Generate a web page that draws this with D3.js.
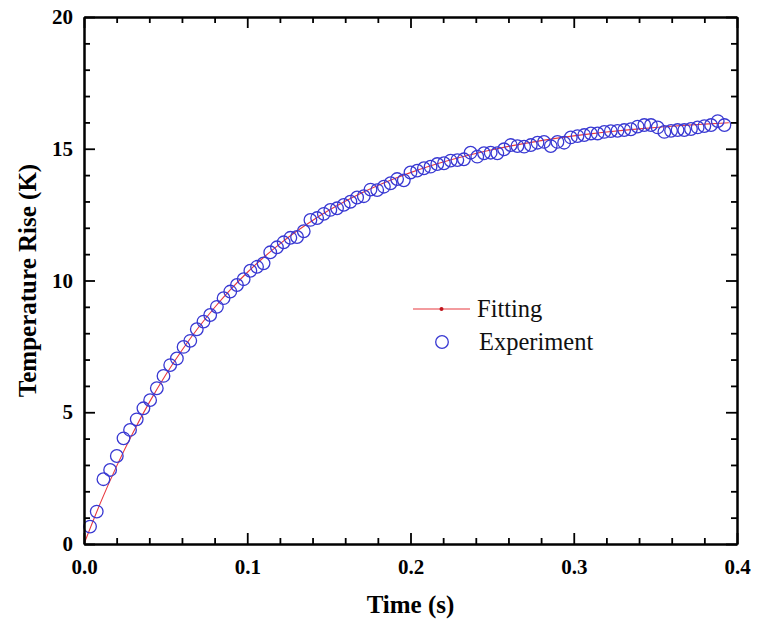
<!DOCTYPE html>
<html>
<head>
<meta charset="utf-8">
<script src="https://cdn.jsdelivr.net/npm/d3@7"></script>
<style>
  html, body { margin: 0; padding: 0; background: #fff; }
  svg { display: block; }
  .frame path.domain { stroke: #000; stroke-width: 2; }
  .frame line { stroke: #000; stroke-width: 1.8; }
  .frame text { font-family: "Liberation Serif", "Times New Roman", serif; font-weight: bold; font-size: 21px; fill: #000; }
</style>
</head>
<body>
<svg id="chart" width="759" height="634"></svg>
<script>
// Measured temperature rise (experiment) over time
const expTime = [
  0.0037, 0.0078, 0.0119, 0.0160, 0.0201, 0.0242, 0.0282, 0.0323, 0.0364, 0.0405,
  0.0446, 0.0487, 0.0528, 0.0569, 0.0610, 0.0651, 0.0691, 0.0732, 0.0773, 0.0814,
  0.0855, 0.0896, 0.0937, 0.0978, 0.1019, 0.1060, 0.1100, 0.1141, 0.1182, 0.1223,
  0.1264, 0.1305, 0.1346, 0.1387, 0.1428, 0.1469, 0.1509, 0.1550, 0.1591, 0.1632,
  0.1673, 0.1714, 0.1755, 0.1796, 0.1837, 0.1878, 0.1918, 0.1959, 0.2000, 0.2041,
  0.2082, 0.2123, 0.2164, 0.2205, 0.2246, 0.2287, 0.2327, 0.2368, 0.2409, 0.2450,
  0.2491, 0.2532, 0.2573, 0.2614, 0.2655, 0.2696, 0.2737, 0.2778, 0.2818, 0.2859,
  0.2900, 0.2941, 0.2982, 0.3023, 0.3064, 0.3105, 0.3146, 0.3187, 0.3227, 0.3268,
  0.3309, 0.3350, 0.3391, 0.3432, 0.3473, 0.3514, 0.3555, 0.3596, 0.3636, 0.3677,
  0.3718, 0.3759, 0.3800, 0.3841, 0.3882, 0.3923
];
const expRise = [
  0.66, 1.23, 2.46, 2.81, 3.34, 4.01, 4.33, 4.73, 5.15, 5.46,
  5.91, 6.38, 6.79, 7.04, 7.48, 7.71, 8.15, 8.44, 8.69, 9.00,
  9.33, 9.58, 9.83, 10.05, 10.37, 10.52, 10.65, 11.07, 11.26, 11.45,
  11.62, 11.65, 11.87, 12.30, 12.37, 12.53, 12.68, 12.74, 12.87, 12.99,
  13.15, 13.20, 13.45, 13.43, 13.56, 13.69, 13.85, 13.80, 14.10, 14.17,
  14.26, 14.32, 14.42, 14.45, 14.55, 14.57, 14.60, 14.85, 14.70, 14.83,
  14.85, 14.83, 14.98, 15.14, 15.10, 15.08, 15.14, 15.23, 15.26, 15.10,
  15.26, 15.23, 15.43, 15.48, 15.52, 15.58, 15.58, 15.64, 15.67, 15.68,
  15.71, 15.74, 15.84, 15.90, 15.90, 15.81, 15.64, 15.68, 15.71, 15.71,
  15.75, 15.81, 15.86, 15.90, 16.05, 15.90
];

// Fitted curve sampled along time
const fitTime = [
  0.00, 0.01, 0.02, 0.03, 0.04, 0.05, 0.06, 0.07, 0.08, 0.09,
  0.10, 0.11, 0.12, 0.13, 0.14, 0.15, 0.16, 0.17, 0.18, 0.19,
  0.20, 0.21, 0.22, 0.23, 0.24, 0.25, 0.26, 0.27, 0.28, 0.29,
  0.30, 0.31, 0.32, 0.33, 0.34, 0.35, 0.36, 0.37, 0.38, 0.39, 0.395
];
const fitRise = [
  0.000, 1.551, 2.955, 4.225, 5.374, 6.414, 7.354, 8.206, 8.976, 9.673,
  10.304, 10.874, 11.391, 11.858, 12.280, 12.663, 13.009, 13.322, 13.606, 13.862,
  14.094, 14.304, 14.494, 14.666, 14.821, 14.962, 15.089, 15.205, 15.309, 15.403,
  15.488, 15.566, 15.636, 15.699, 15.756, 15.808, 15.855, 15.897, 15.935, 15.970, 15.986
];

const xMajorTicks = [0.0, 0.1, 0.2, 0.3, 0.4];
const xMinorTicks = [0.02, 0.04, 0.06, 0.08, 0.12, 0.14, 0.16, 0.18, 0.22, 0.24, 0.26, 0.28, 0.32, 0.34, 0.36, 0.38];
const yMajorTicks = [0, 5, 10, 15, 20];
const yMinorTicks = [1, 2, 3, 4, 6, 7, 8, 9, 11, 12, 13, 14, 16, 17, 18, 19];

const xTitle = "Time (s)";
const yTitle = "Temperature Rise (K)";
const legendNames = ["Fitting", "Experiment"];

const margin = { left: 84, top: 17, right: 22, bottom: 90 };
const W = 759, H = 634;
const svg = d3.select("#chart");
const serif = "'Liberation Serif', 'Times New Roman', serif";

const x = d3.scaleLinear().domain([0, 0.4]).range([margin.left, W - margin.right]);
const y = d3.scaleLinear().domain([0, 20]).range([H - margin.bottom, margin.top]);

const x0 = margin.left, x1 = W - margin.right, y0 = H - margin.bottom, y1 = margin.top;

// Fit line (clipped to plot area)
svg.append("clipPath").attr("id", "plotclip")
  .append("rect").attr("x", x0).attr("y", y1).attr("width", x1 - x0).attr("height", y0 - y1);

const fitData = fitTime.map((t, i) => [t, fitRise[i]]);
svg.append("path")
  .attr("clip-path", "url(#plotclip)")
  .datum(fitData)
  .attr("fill", "none")
  .attr("stroke", "#e8383f")
  .attr("stroke-width", 1.1)
  .attr("d", d3.line().x(d => x(d[0])).y(d => y(d[1])).curve(d3.curveMonotoneX));

// Experiment markers
const expData = expTime.map((t, i) => [t, expRise[i]]);
svg.append("g").selectAll("circle")
  .data(expData)
  .join("circle")
  .attr("cx", d => x(d[0]))
  .attr("cy", d => y(d[1]))
  .attr("r", 6.3)
  .attr("fill", "none")
  .attr("stroke", "#3838d2")
  .attr("stroke-width", 1.3);

// Frame axes with inward ticks
function addAxis(axis, tx, ty) {
  return svg.append("g").attr("class", "frame")
    .attr("transform", `translate(${tx},${ty})`).call(axis);
}
const fmtX = d3.format(".1f");
addAxis(d3.axisBottom(x).tickValues(xMinorTicks).tickSizeInner(-6).tickSizeOuter(0).tickFormat(""), 0, y0);
addAxis(d3.axisBottom(x).tickValues(xMajorTicks).tickSizeInner(-11).tickSizeOuter(0).tickPadding(15).tickFormat(fmtX), 0, y0);
addAxis(d3.axisTop(x).tickValues(xMinorTicks).tickSizeInner(-6).tickSizeOuter(0).tickFormat(""), 0, y1);
addAxis(d3.axisTop(x).tickValues(xMajorTicks).tickSizeInner(-11).tickSizeOuter(0).tickFormat(""), 0, y1);
addAxis(d3.axisLeft(y).tickValues(yMinorTicks).tickSizeInner(-6).tickSizeOuter(0).tickFormat(""), x0, 0);
addAxis(d3.axisLeft(y).tickValues(yMajorTicks).tickSizeInner(-11).tickSizeOuter(0).tickPadding(11).tickFormat(d3.format("d")), x0, 0);
addAxis(d3.axisRight(y).tickValues(yMinorTicks).tickSizeInner(-6).tickSizeOuter(0).tickFormat(""), x1, 0);
addAxis(d3.axisRight(y).tickValues(yMajorTicks).tickSizeInner(-11).tickSizeOuter(0).tickFormat(""), x1, 0);

// Axis titles
svg.append("text")
  .attr("x", (x0 + x1) / 2).attr("y", 613)
  .attr("text-anchor", "middle")
  .style("font-family", serif)
  .style("font-weight", "bold").style("font-size", "25px")
  .text(xTitle);
svg.append("text")
  .attr("transform", `translate(36,${(y0 + y1) / 2}) rotate(-90)`)
  .attr("text-anchor", "middle")
  .style("font-family", serif)
  .style("font-weight", "bold").style("font-size", "25px")
  .text(yTitle);

// Legend
const lg = svg.append("g");
lg.append("line").attr("x1", 413).attr("x2", 470).attr("y1", 309).attr("y2", 309)
  .attr("stroke", "#e8383f").attr("stroke-width", 1.1);
lg.append("circle").attr("cx", 441.5).attr("cy", 309).attr("r", 2).attr("fill", "#c0141c");
lg.append("circle").attr("cx", 442).attr("cy", 342).attr("r", 6.3)
  .attr("fill", "none").attr("stroke", "#3838d2").attr("stroke-width", 1.3);
lg.selectAll("text.lbl").data(legendNames).join("text")
  .attr("class", "lbl")
  .attr("x", (d, i) => i === 0 ? 477 : 479)
  .attr("y", (d, i) => i === 0 ? 317 : 350)
  .style("font-family", serif)
  .style("font-size", "24.5px")
  .attr("fill", "#111")
  .text(d => d);
</script>
</body>
</html>
